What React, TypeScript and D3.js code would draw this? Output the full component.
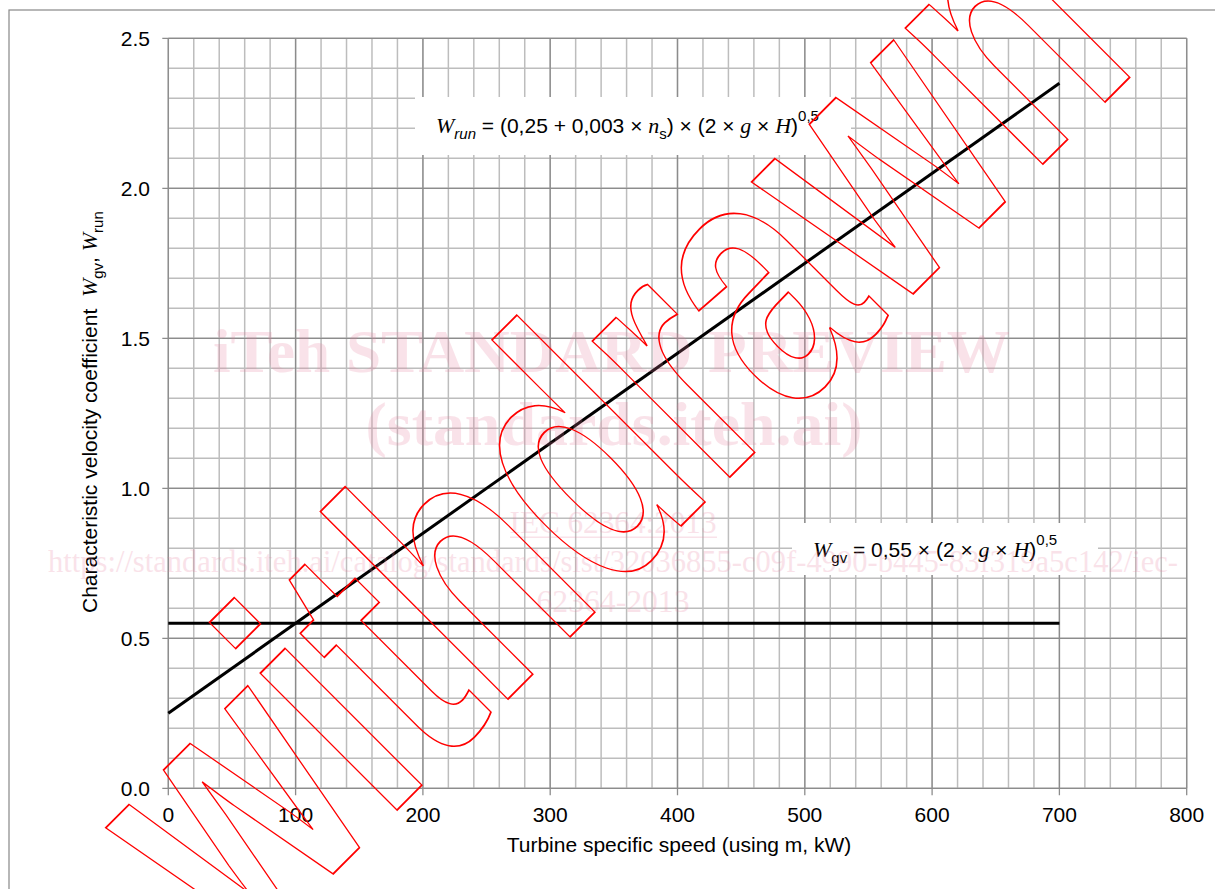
import * as d3 from "d3";

const WIDTH = 1215;
const HEIGHT = 889;
const PLOT = { left: 168.3, right: 1186.7, top: 38.3, bottom: 788.3 };

// axis ticks
const X_TICKS = [0, 100, 200, 300, 400, 500, 600, 700, 800];
const Y_TICKS = [0.0, 0.5, 1.0, 1.5, 2.0, 2.5];
const X_MINOR_STEP = 20;
const Y_MINOR_STEP = 0.1;

// series (turbine specific speed -> coefficient)
const SPEED = [0, 700];
const W_RUN = [0.25, 2.35];
const W_GV = [0.55, 0.55];

const SANS = "'Liberation Sans', Arial, Helvetica, sans-serif";
const SERIF = "'Liberation Serif', 'Times New Roman', serif";

const PINK = "#e8809e";

export default function App() {
  const x = d3.scaleLinear().domain([0, 800]).range([PLOT.left, PLOT.right]);
  const y = d3.scaleLinear().domain([0, 2.5]).range([PLOT.bottom, PLOT.top]);

  const xMinor = d3.range(0, 800 + 1e-6, X_MINOR_STEP);
  const yMinor = d3.range(0, 25 + 1e-6, 1).map((d) => d * Y_MINOR_STEP);

  const line = d3
    .line<[number, number]>()
    .x((d) => x(d[0]))
    .y((d) => y(d[1]));

  const runPath = line(SPEED.map((s, i) => [s, W_RUN[i]]));
  const gvPath = line(SPEED.map((s, i) => [s, W_GV[i]]));

  const minor = "#bdbdbd";
  const major = "#8c8c8c";

  return (
    <svg
      width={WIDTH}
      height={HEIGHT}
      style={{ position: "absolute", left: 0, top: 0, background: "#fff" }}
    >
      {/* outer frame */}
      <rect x={9} y={10} width={1220} height={900} fill="none" stroke="#888" strokeWidth={1.2} />

      {/* minor grid */}
      <g stroke={minor} strokeWidth={1.5}>
        {xMinor.map((v) => (
          <line key={"xm" + v} x1={x(v)} x2={x(v)} y1={y(0)} y2={y(2.5)} />
        ))}
        {yMinor.map((v) => (
          <line key={"ym" + v} x1={x(0)} x2={x(800)} y1={y(v)} y2={y(v)} />
        ))}
      </g>
      {/* major grid */}
      <g stroke={major} strokeWidth={1.3}>
        {X_TICKS.map((v) => (
          <line key={"xM" + v} x1={x(v)} x2={x(v)} y1={y(0) + 7} y2={y(2.5)} />
        ))}
        {Y_TICKS.map((v) => (
          <line key={"yM" + v} x1={x(0) - 6} x2={x(800)} y1={y(v)} y2={y(v)} />
        ))}
      </g>

      {/* tick labels */}
      <g fontFamily={SANS} fontSize={21} fill="#000">
        {Y_TICKS.map((v) => (
          <text key={"yl" + v} x={150} y={y(v)} dy="0.36em" textAnchor="end">
            {d3.format(".1f")(v)}
          </text>
        ))}
        {X_TICKS.map((v) => (
          <text key={"xl" + v} x={x(v)} y={821.7} textAnchor="middle">
            {v}
          </text>
        ))}
        <text x={679} y={852} textAnchor="middle">
          Turbine specific speed (using m, kW)
        </text>
        <text transform="translate(97,613) rotate(-90)" style={{ whiteSpace: "pre" }}>
          <tspan>{"Characteristic velocity coefficient  "}</tspan>
          <tspan fontFamily={SERIF} fontStyle="italic" fontSize={22}>W</tspan>
          <tspan fontSize={15} dy={6}>gv</tspan>
          <tspan dy={-6}>{", "}</tspan>
          <tspan fontFamily={SERIF} fontStyle="italic" fontSize={22}>W</tspan>
          <tspan fontSize={15} dy={6}>run</tspan>
        </text>
      </g>

      {/* formula boxes */}
      <rect x={415} y={97} width={436} height={58} fill="#fff" />
      <rect x={792} y={523} width={306} height={52} fill="#fff" />

      {/* curves */}
      <path d={runPath ?? ""} fill="none" stroke="#000" strokeWidth={3} />
      <path d={gvPath ?? ""} fill="none" stroke="#000" strokeWidth={3} />

      {/* formulas */}
      <text x={436} y={133} fontFamily={SANS} fontSize={21} style={{ whiteSpace: "pre" }}>
        <tspan fontFamily={SERIF} fontStyle="italic" fontSize={22}>W</tspan>
        <tspan fontStyle="italic" fontSize={15} dy={6}>run</tspan>
        <tspan dy={-6}>{" = (0,25 + 0,003 × "}</tspan>
        <tspan fontFamily={SERIF} fontStyle="italic" fontSize={22}>n</tspan>
        <tspan fontSize={15} dy={6}>s</tspan>
        <tspan dy={-6}>{") × (2 × "}</tspan>
        <tspan fontFamily={SERIF} fontStyle="italic" fontSize={22}>g</tspan>
        <tspan>{" × "}</tspan>
        <tspan fontFamily={SERIF} fontStyle="italic" fontSize={22}>H</tspan>
        <tspan>)</tspan>
        <tspan fontSize={15} dy={-12}>0,5</tspan>
      </text>
      <text x={813} y={557} fontFamily={SANS} fontSize={21} style={{ whiteSpace: "pre" }}>
        <tspan fontFamily={SERIF} fontStyle="italic" fontSize={22}>W</tspan>
        <tspan fontSize={15} dy={6}>gv</tspan>
        <tspan dy={-6}>{" = 0,55 × (2 × "}</tspan>
        <tspan fontFamily={SERIF} fontStyle="italic" fontSize={22}>g</tspan>
        <tspan>{" × "}</tspan>
        <tspan fontFamily={SERIF} fontStyle="italic" fontSize={22}>H</tspan>
        <tspan>)</tspan>
        <tspan fontSize={15} dy={-12}>0,5</tspan>
      </text>

      {/* pink watermark */}
      <g fill={PINK} opacity={0.22} fontFamily={SERIF} textAnchor="middle">
        <text x={611.5} y={372} fontSize={62} fontWeight="bold" textLength={797} lengthAdjust="spacingAndGlyphs">
          iTeh STANDARD PREVIEW
        </text>
        <text x={614} y={445} fontSize={62} fontWeight="bold" textLength={497} lengthAdjust="spacingAndGlyphs">
          (standards.iteh.ai)
        </text>
        <text x={613} y={532.7} fontSize={31} textLength={207} lengthAdjust="spacingAndGlyphs">
          IEC 62364:2013
        </text>
        <line x1={510} x2={717} y1={537.3} y2={537.3} stroke={PINK} strokeWidth={1.5} />
        <text x={613} y={572} fontSize={31} textLength={1130} lengthAdjust="spacingAndGlyphs">
          https://standards.iteh.ai/catalog/standards/sist/32036855-c09f-4990-b445-83f319a5c142/iec-
        </text>
        <text x={613} y={611.5} fontSize={31} textLength={153} lengthAdjust="spacingAndGlyphs">
          62364-2013
        </text>
      </g>

      {/* withdrawn stamp */}
      <text
        transform="translate(243,964) rotate(-45)"
        fontFamily={SANS}
        fontWeight="bold"
        fontSize={366}
        fill="none"
        stroke="#ff0000"
        strokeWidth={1.8}
        textLength={1270}
        lengthAdjust="spacingAndGlyphs"
      >
        withdrawn
      </text>
    </svg>
  );
}
